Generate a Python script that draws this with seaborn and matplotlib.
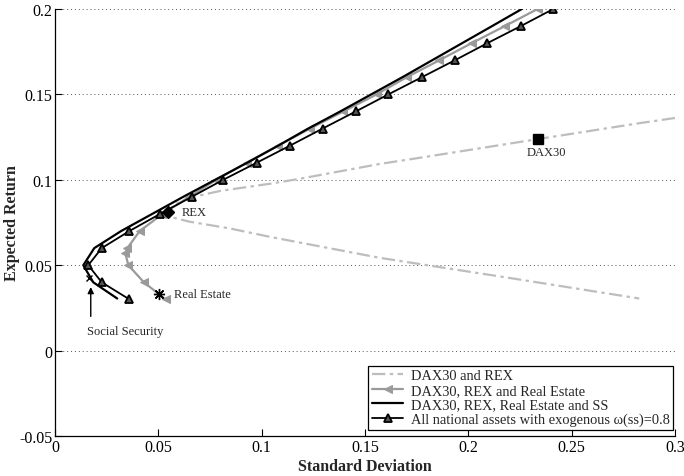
import numpy as np
import pandas as pd
import matplotlib
matplotlib.use("Agg")
import matplotlib.pyplot as plt
import seaborn as sns

# ---------------- data ----------------
# DAX30 and REX (dash-dot), ordered along the curve
dr_sd = [0.300, 0.283, 0.2335, 0.1766, 0.1572, 0.118, 0.104, 0.080, 0.065, 0.058, 0.054,
         0.0557, 0.065, 0.0847, 0.104, 0.1572, 0.2217, 0.2827]
dr_ret = [0.1362, 0.1332, 0.1238, 0.1129, 0.1093, 0.1005, 0.0977, 0.0935, 0.0895, 0.0855, 0.0812,
          0.0783, 0.0755, 0.0715, 0.0666, 0.0543, 0.0422, 0.0305]

# DAX30, REX and Real Estate (grey, '<' markers)
re_sd = [0.0535, 0.043, 0.0355, 0.034, 0.035, 0.041, 0.052, 0.065, 0.078, 0.0927,
         0.108, 0.1234, 0.1395, 0.1556, 0.1701, 0.186, 0.2016, 0.2177, 0.2335]
re_ret = [0.030, 0.040, 0.050, 0.057, 0.060, 0.070, 0.080, 0.090, 0.100, 0.110,
          0.120, 0.130, 0.140, 0.150, 0.160, 0.170, 0.180, 0.190, 0.200]

# DAX30, REX, Real Estate and SS (black solid)
ss_sd = [0.0301, 0.0185, 0.0137, 0.019, 0.032, 0.047, 0.062, 0.0775, 0.093, 0.108,
         0.1225, 0.138, 0.153, 0.168, 0.1825, 0.197, 0.2115, 0.2259]
ss_ret = [0.0305, 0.040, 0.050, 0.060, 0.070, 0.080, 0.090, 0.100, 0.110, 0.120,
          0.130, 0.140, 0.150, 0.160, 0.170, 0.180, 0.190, 0.200]

# All national assets with exogenous w(ss)=0.8 (black, '^' markers)
ex_sd = [0.036, 0.0226, 0.0161, 0.0226, 0.036, 0.0508, 0.0661, 0.0814, 0.0976, 0.1137,
         0.1295, 0.1455, 0.1613, 0.1774, 0.1935, 0.2092, 0.2254, 0.2411]
ex_ret = [0.030, 0.040, 0.050, 0.060, 0.070, 0.080, 0.090, 0.100, 0.110, 0.120,
          0.130, 0.140, 0.150, 0.160, 0.170, 0.180, 0.190, 0.200]

# single assets
asset_names = ["REX", "DAX30", "Real Estate", "Social Security"]
asset_sd = [0.0545, 0.2335, 0.0505, 0.0166]
asset_ret = [0.0812, 0.1238, 0.0334, 0.0426]

series_labels = ["DAX30 and REX", "DAX30, REX and Real Estate",
                 "DAX30, REX, Real Estate and SS",
                 "All national assets with exogenous \u03c9(ss)=0.8"]

xticks = [0, 0.05, 0.1, 0.15, 0.2, 0.25, 0.3]
xticklabels = ["0", "0.05", "0.1", "0.15", "0.2", "0.25", "0.3"]
yticks = [-0.05, 0, 0.05, 0.1, 0.15, 0.2]
yticklabels = ["-0.05", "0", "0.05", "0.1", "0.15", "0.2"]

# ---------------- plot ----------------
sns.set_style("ticks")
plt.rcParams["font.family"] = ["Liberation Serif", "DejaVu Serif"]
plt.rcParams["mathtext.fontset"] = "stix"

fig = plt.figure(figsize=(6.84, 4.77), dpi=100)
ax = fig.add_axes([55 / 684, 1 - 437 / 477, 620 / 684, 427 / 477])

df_dr = pd.DataFrame({"sd": dr_sd, "ret": dr_ret})
df_re = pd.DataFrame({"sd": re_sd, "ret": re_ret})
df_ss = pd.DataFrame({"sd": ss_sd, "ret": ss_ret})
df_ex = pd.DataFrame({"sd": ex_sd, "ret": ex_ret})

sns.lineplot(data=df_dr, x="sd", y="ret", sort=False, estimator=None, ax=ax,
             color="#bdbdbd", lw=1.6, dashes=False, label=series_labels[0],
             linestyle=(0, (6, 2, 1.5, 2)))
sns.lineplot(data=df_re, x="sd", y="ret", sort=False, estimator=None, ax=ax,
             color="#9a9a9a", lw=1.6, marker="<", markersize=6,
             markerfacecolor="#9a9a9a", markeredgecolor="#9a9a9a",
             label=series_labels[1])
sns.lineplot(data=df_ss, x="sd", y="ret", sort=False, estimator=None, ax=ax,
             color="black", lw=1.6, label=series_labels[2])
sns.lineplot(data=df_ex, x="sd", y="ret", sort=False, estimator=None, ax=ax,
             color="black", lw=1.3, marker="^", markersize=6,
             markerfacecolor="#555555", markeredgecolor="black", markeredgewidth=1.3,
             label=series_labels[3])

# single-asset markers
ax.plot(asset_sd[0], asset_ret[0], marker="D", color="black", markersize=6.5, ls="none")
ax.plot(asset_sd[1], asset_ret[1], marker="s", color="black", markersize=7, ls="none")
ax.plot(asset_sd[2], asset_ret[2], marker=(8, 2, 0), color="black", markersize=8,
        markeredgewidth=1.0, ls="none")
ax.plot(asset_sd[3], asset_ret[3], marker="x", color="black", markersize=5,
        markeredgewidth=1.0, ls="none")

ax.text(asset_sd[0] + 0.007, asset_ret[0], asset_names[0], fontsize=9,
        ha="left", va="center")
ax.text(asset_sd[1] + 0.0045, asset_ret[1] - 0.0075, asset_names[1], fontsize=9,
        ha="center", va="center")
ax.text(asset_sd[2] + 0.007, asset_ret[2], asset_names[2], fontsize=9,
        ha="left", va="center")
ax.annotate("", xy=(0.0173, 0.0372), xytext=(0.0173, 0.0200),
            arrowprops=dict(arrowstyle="-|>", color="black", lw=1.0,
                            mutation_scale=9, shrinkA=0, shrinkB=0))
ax.text(0.0338, 0.0117, asset_names[3], fontsize=9, ha="center", va="center")

ax.set_xlim(0, 0.3)
ax.set_ylim(-0.05, 0.2)
ax.set_xticks(xticks)
ax.set_xticklabels(xticklabels)
ax.set_yticks(yticks)
ax.set_yticklabels(yticklabels)
ax.tick_params(direction="in", length=5, width=0.8, labelsize=11.5, colors="black",
               pad=2)
ax.yaxis.grid(True, linestyle=(0, (1, 3)), color="#555555", lw=0.7)
ax.xaxis.grid(False)
sns.despine(ax=ax, top=True, right=True)
for s in ["left", "bottom"]:
    ax.spines[s].set_color("black")
    ax.spines[s].set_linewidth(0.9)

ax.set_xlabel("Standard Deviation", fontsize=11.5, fontweight="bold")
ax.set_ylabel("Expected Return", fontsize=11.5, fontweight="bold")
ax.xaxis.set_label_coords(0.5, -0.052)
ax.yaxis.set_label_coords(-0.056, 0.5)

leg = ax.legend(loc="lower right", bbox_to_anchor=(0.997, 0.014), fontsize=10.4,
                frameon=True, fancybox=False, edgecolor="black", framealpha=1,
                labelspacing=0.1, borderpad=0.25, handlelength=2.2,
                handletextpad=0.5, borderaxespad=0)
leg.get_frame().set_linewidth(0.9)

fig.savefig("out.png", dpi=100)
